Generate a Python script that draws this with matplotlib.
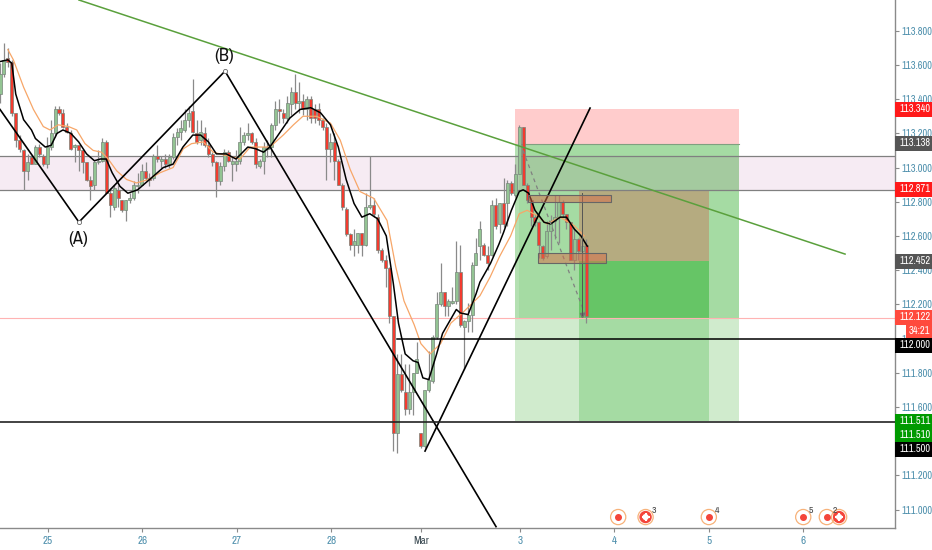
import numpy as np
import matplotlib
matplotlib.use('Agg')
import matplotlib.pyplot as plt
from matplotlib.patches import Rectangle

# hourly bars, 24 per day on the axis
opens = [113.43,113.55,113.64,113.62,113.32,113.16,113.10,112.98,113.06,113.02,
         113.12,113.07,113.02,113.12,113.20,113.34,113.32,113.24,113.20,113.12,
         113.13,113.10,113.03,112.93,112.90,113.03,113.04,113.15,112.85,112.77,
         112.87,112.81,112.75,112.81,112.82,112.89,112.90,112.98,112.94,112.94,
         113.07,113.04,113.05,113.02,113.06,113.18,113.21,113.22,113.28,113.33,
         113.20,113.16,113.20,113.13,113.08,113.03,112.92,113.01,113.09,113.02,
         113.02,113.04,113.15,113.19,113.20,113.15,113.01,113.04,113.11,113.12,
         113.25,113.34,113.32,113.29,113.37,113.44,113.38,113.39,113.34,113.40,
         113.34,113.34,113.28,113.24,113.11,113.15,113.04,112.90,112.76,112.61,
         112.55,112.55,112.62,112.55,112.77,112.78,112.71,112.52,112.46,112.41,
         112.13,111.45,111.79,111.69,111.59,111.69,111.80,111.45,111.37,111.70,
         111.75,112.01,112.20,112.27,112.19,112.21,112.22,112.39,112.07,112.10,
         112.14,112.43,112.54,112.55,112.49,112.49,112.78,112.67,112.79,112.79,
         112.91,112.84,112.96,113.24,112.90,112.81,112.71,112.68,112.54,112.48,
         112.63,112.69,112.71,112.80,112.73,112.68,112.46,112.58,112.51,112.55]
closes = [113.55,113.63,113.62,113.32,113.16,113.11,112.98,113.03,113.02,113.12,
          113.08,113.02,113.12,113.20,113.34,113.32,113.24,113.21,113.11,113.13,
          113.10,113.03,112.93,112.89,113.03,113.04,113.15,112.85,112.78,112.88,
          112.82,112.75,112.81,112.82,112.90,112.90,112.98,112.94,112.93,113.07,
          113.05,113.05,113.02,113.06,113.18,113.21,113.23,113.28,113.32,113.21,
          113.15,113.21,113.13,113.08,113.03,112.92,113.01,113.09,113.04,113.04,
          113.04,113.15,113.19,113.20,113.15,113.02,113.04,113.12,113.12,113.25,
          113.34,113.33,113.29,113.38,113.44,113.38,113.39,113.34,113.40,113.29,
          113.29,113.28,113.24,113.11,113.15,113.04,112.90,112.77,112.61,112.55,
          112.57,112.62,112.55,112.77,112.78,112.73,112.52,112.46,112.41,112.13,
          111.45,111.79,111.70,111.59,111.69,111.80,111.88,111.37,111.70,111.76,
          112.01,112.20,112.27,112.19,112.22,112.22,112.39,112.08,112.10,112.14,
          112.43,112.50,112.64,112.49,112.44,112.78,112.66,112.79,112.67,112.91,
          112.85,112.96,113.24,112.90,112.81,112.71,112.68,112.55,112.47,112.63,
          112.69,112.71,112.80,112.73,112.68,112.46,112.58,112.51,112.54,112.13]
highs = [113.61,113.73,113.70,113.63,113.32,113.19,113.11,113.08,113.07,113.13,
         113.14,113.08,113.18,113.28,113.36,113.36,113.34,113.26,113.22,113.14,
         113.13,113.11,113.03,112.95,113.04,113.10,113.17,113.16,112.88,112.90,
         112.90,112.81,112.81,112.85,112.92,112.97,113.02,113.03,112.97,113.08,
         113.13,113.07,113.08,113.08,113.20,113.23,113.28,113.34,113.36,113.52,
         113.28,113.28,113.24,113.17,113.09,113.04,113.03,113.11,113.10,113.07,
         113.10,113.24,113.21,113.26,113.21,113.17,113.05,113.15,113.16,113.26,
         113.39,113.40,113.34,113.42,113.47,113.55,113.50,113.43,113.42,113.42,
         113.37,113.38,113.29,113.26,113.20,113.20,113.05,112.91,112.77,112.62,
         112.64,112.62,112.62,112.85,113.07,112.82,112.73,112.53,112.49,112.42,
         112.13,111.91,111.91,111.85,111.85,111.80,111.98,111.45,111.70,111.93,
         112.02,112.27,112.44,112.27,112.23,112.30,112.57,112.55,112.11,112.21,
         112.45,112.59,112.69,112.56,112.54,112.81,112.82,112.79,112.94,112.93,
         112.92,113.02,113.25,113.24,112.91,112.82,112.73,112.69,112.55,112.69,
         112.72,112.84,112.84,112.81,112.73,112.68,112.65,112.59,112.58,112.58]
lows = [113.38,113.53,113.59,113.30,113.12,113.09,112.87,112.93,113.02,113.02,
        113.06,113.01,113.00,113.10,113.18,113.31,113.23,113.20,113.10,113.03,
        112.98,112.97,112.92,112.81,112.87,113.02,113.03,112.85,112.71,112.75,
        112.77,112.74,112.69,112.79,112.81,112.85,112.90,112.93,112.89,112.93,
        113.03,113.00,113.00,113.00,113.05,113.13,113.16,113.21,113.24,113.20,
        113.14,113.13,113.12,113.06,113.01,112.83,112.90,112.98,113.03,112.92,
        112.98,113.02,113.13,113.16,113.14,113.00,113.00,112.96,113.06,113.06,
        113.22,113.26,113.26,113.26,113.31,113.34,113.32,113.31,113.28,113.26,
        113.26,113.25,113.22,112.93,113.03,112.93,112.90,112.75,112.60,112.52,
        112.48,112.50,112.48,112.54,112.76,112.71,112.50,112.45,112.30,112.09,
        111.34,111.33,111.69,111.55,111.56,111.55,111.80,111.36,111.36,111.69,
        111.74,112.00,112.19,112.13,112.13,112.20,112.20,112.07,111.82,112.04,
        112.04,112.43,112.46,112.48,112.40,112.48,112.64,112.62,112.65,112.66,
        112.84,112.83,112.96,112.90,112.79,112.66,112.66,112.47,112.46,112.47,
        112.52,112.58,112.56,112.71,112.64,112.46,112.40,112.46,112.46,112.09]

# moving averages, read at some bars only
black_ma_bars = [0,2,3,4,6,8,9,11.5,13,14.5,16,18,20,22,24,25.5,27,28.5,30.5,32.5,35,37,39,41.5,44,46.5,49,51,53,55,
                 57.5,60,63,65,67,68.6,71,73.7,76.3,79,81.5,84,86,88,90,92,94,96,98.2,100,101.3,103,105,106.3,107.5,109,
                 111,112.5,114.5,116,117,119,121,122,124.7,126.8,128,130,132,133,134.4,136,138.3,140,142.4,144,146,147.7,149.3]
black_ma = [113.62,113.63,113.61,113.43,113.28,113.22,113.17,113.12,113.13,113.20,113.22,113.20,113.15,113.08,113.04,
            113.05,113.05,112.97,112.89,112.85,112.87,112.91,112.95,113.00,113.02,113.12,113.19,113.19,113.15,113.08,
            113.08,113.05,113.12,113.11,113.09,113.12,113.20,113.29,113.34,113.35,113.32,113.25,113.12,112.93,112.79,
            112.71,112.73,112.70,112.60,112.32,112.09,111.91,111.87,111.86,111.77,111.76,111.91,112.03,112.11,112.17,
            112.15,112.14,112.26,112.33,112.44,112.55,112.62,112.75,112.86,112.87,112.85,112.75,112.68,112.67,112.71,
            112.71,112.64,112.60,112.54]
orange_ma_bars = [2,3.4,6,8.5,11,12.7,14.8,17.4,19.5,21.6,23.7,25.8,27.5,29.7,32.2,34.7,37.7,40.7,44,46.6,48.7,51.7,54.2,
                  57.6,61,63.6,66,68.6,72,74.6,77,80.5,84,86.5,89,91.5,95,98.4,100.6,102.7,105.3,107,109.3,112,114.6,118,
                  122,124.6,127,129.8,132,134,136.5,139,142.4,146,148.5]
orange_ma = [113.69,113.63,113.47,113.34,113.24,113.22,113.25,113.24,113.22,113.14,113.10,113.09,113.05,112.98,112.93,
             112.91,112.93,112.97,113.00,113.11,113.14,113.15,113.09,113.07,113.05,113.12,113.12,113.12,113.19,113.25,
             113.30,113.30,113.26,113.16,112.99,112.86,112.82,112.69,112.42,112.22,112.08,111.97,111.91,111.97,112.09,
             112.16,112.25,112.36,112.48,112.60,112.73,112.75,112.72,112.67,112.71,112.66,112.60]

# axis
first_bar_day = -0.508
day_ticks = [0, 1, 2, 3, 3.95, 5, 6, 7, 8]
day_labels = ['25', '26', '27', '28', 'Mar', '3', '4', '5', '6']
price_ticks = [111.0, 111.2, 111.4, 111.6, 111.8, 112.0, 112.2, 112.4, 112.6, 112.8, 113.0, 113.2, 113.4, 113.6, 113.8]

# drawings (day, price)
trend_days = [0.328, 8.443]
trend_prices = [113.98, 112.494]
wave_days = [-0.508, 0.328, 1.875, 4.746]
wave_prices = [113.34, 112.681, 113.564, 110.90]
rise_days = [3.994, 5.742]
rise_prices = [111.342, 113.348]

event_days = [6.04, 6.33, 7.0, 8.0, 8.25, 8.38]
event_marks = ['', '3', '4', '5', '2', '']
event_red = [False, True, False, False, False, True]

pills = [('113.340', '#ff1a1a', 109), ('113.138', '#555555', 143), ('112.871', '#ff1a1a', 189),
         ('112.452', '#555555', 261), ('112.122', '#ff4a3d', 317), ('112.000', '#000000', 345.5),
         ('111.511', '#009a00', 421.5), ('111.510', '#009a00', 435), ('111.500', '#000000', 449.5)]

W, H = 932, 550
NARROW = ['Archivo Narrow', 'Liberation Sans']
BLUE = '#4d8fac'

fig = plt.figure(figsize=(W / 100, H / 100), dpi=100)
ax = fig.add_axes([0, 22 / H, 895 / W, 1 - 22 / H])
ax.set_xlim(-0.508, 8.972)
ax.set_ylim(110.892, 113.98)

# zones
def zone(d0, d1, p0, p1, col, z=1, **kw):
    ax.add_patch(Rectangle((d0, p0), d1 - d0, p1 - p0, facecolor=col, edgecolor='none', zorder=z, **kw))

zone(4.947, 7.32, 113.138, 113.34, '#ffcccc')
zone(4.947, 7.32, 111.515, 112.122, '#d0ebcd')
zone(4.947, 4.99, 112.122, 113.138, '#b4e0b2')
zone(4.99, 7.32, 112.122, 113.138, '#a5dba3')
zone(5.625, 7.0, 111.515, 112.122, '#a5dba3')
zone(5.625, 7.0, 112.122, 112.452, '#66c566')
zone(5.625, 7.0, 112.452, 112.871, '#b5ab80')
ax.axhspan(112.871, 113.067, facecolor='#9c2780', alpha=0.09, edgecolor='none', zorder=1.5)
for p in [113.067, 112.871]:
    ax.axhline(p, color='#808080', lw=0.9, zorder=2)
ax.plot([4.99, 7.32], [113.138, 113.138], color='#80a080', lw=0.8, zorder=2)

ax.axhline(112.122, color='#ffb3b3', lw=0.8, zorder=2)
ax.plot([3.70, 8.972], [112.0, 112.0], color='black', lw=1.1, zorder=6)
ax.axhline(111.511, color='#222222', lw=1.2, zorder=6)

# candles
bar_x = first_bar_day + np.arange(len(opens)) / 24
opens = np.array(opens)
closes = np.array(closes)
body_col = np.where(closes >= opens, '#93c493', '#f23b2f')
ax.vlines(bar_x, lows, highs, color='#8a8a8a', lw=0.9, zorder=3)
ax.bar(bar_x, np.abs(closes - opens), bottom=np.minimum(opens, closes), width=0.032,
       color=body_col, edgecolor='#77857a', linewidth=0.5, zorder=3.5)

ax.plot(first_bar_day + np.array(orange_ma_bars) / 24, orange_ma, color='#f7a668', lw=0.9, zorder=4)
ax.plot(first_bar_day + np.array(black_ma_bars) / 24, black_ma, color='black', lw=1.1, zorder=4.5)

# trend lines and wave
ax.plot(trend_days, trend_prices, color='#5aa03c', lw=1.1, zorder=5)
ax.plot(wave_days, wave_prices, color='black', lw=1.2, zorder=5)
ax.plot(rise_days, rise_prices, color='black', lw=1.2, zorder=5)
ax.plot(wave_days[1:3], wave_prices[1:3], ls='none', marker='o', ms=3, mfc='white', mec='#666666', mew=0.6, zorder=5.5)
ax.text(0.32, 112.585, '(A)', family=NARROW, fontsize=13, ha='center', va='center', color='#111111', zorder=7)
ax.text(1.87, 113.65, '(B)', family=NARROW, fontsize=13, ha='center', va='center', color='#111111', zorder=7)

# forecast path and the two small boxes
ax.plot([5.032, 5.70], [113.10, 112.125], color='#808080', lw=0.9, ls=(0, (3, 3)), zorder=5)
ax.plot([5.66], [112.14], marker='v', ms=3, color='#707070', zorder=5)
ax.plot([5.66, 5.66], [112.137, 112.85], color='#555555', lw=0.7, zorder=5)
ax.add_patch(Rectangle((5.08, 112.80), 0.88, 0.04, facecolor=(0.85, 0.42, 0.28, 0.5), edgecolor='#666666', lw=0.8, zorder=5))
ax.add_patch(Rectangle((5.19, 112.443), 0.72, 0.059, facecolor=(0.85, 0.42, 0.28, 0.5), edgecolor='#666666', lw=0.8, zorder=5))

# calendar events
for d, mark, red in zip(event_days, event_marks, event_red):
    ax.scatter([d], [110.956], s=120, facecolor='none', edgecolor='#f7b27a', lw=0.9, zorder=7)
    if red:
        ax.scatter([d], [110.956], s=45, facecolor='none', edgecolor='#f4453a', lw=2.2, zorder=7)
        ax.scatter([d], [110.956], s=30, marker='+', color='white', lw=1.5, zorder=7.5)
    else:
        ax.scatter([d], [110.956], s=16, color='#f4453a', zorder=7)
    if mark:
        ax.text(d + 0.06, 110.995, mark, fontsize=7, family=NARROW, color='#444444', ha='left', va='center', zorder=8)

# axes
for s in ['top', 'left']:
    ax.spines[s].set_visible(False)
for s in ['bottom', 'right']:
    ax.spines[s].set_color('#8a8a8a')
    ax.spines[s].set_linewidth(1)
ax.yaxis.tick_right()
ax.set_yticks(price_ticks)
ax.set_yticklabels(['%.3f' % p for p in price_ticks])
ax.set_xticks(day_ticks)
ax.set_xticklabels(day_labels)
ax.tick_params(axis='y', length=3, width=0.8, color='#8a8a8a', labelcolor=BLUE, labelsize=7.5, pad=2)
ax.tick_params(axis='x', length=3, width=0.8, color='#8a8a8a', labelcolor=BLUE, labelsize=8, pad=3)
for t in ax.get_yticklabels() + ax.get_xticklabels():
    t.set_family(NARROW)
mar = ax.get_xticklabels()[4]
mar.set_color('#3b4a52')
mar.set_fontweight('bold')

# price labels on the scale
for txt, col, y in pills:
    fig.add_artist(Rectangle((895 / W, 1 - (y + 7.5) / H), 37 / W, 15 / H, transform=fig.transFigure,
                             facecolor=col, edgecolor='none', zorder=2))
    fig.text(915 / W, 1 - y / H, txt, color='white', fontsize=7.5, family=NARROW, ha='center', va='center', zorder=3)
fig.add_artist(Rectangle((906 / W, 1 - 338 / H), 26 / W, 13 / H, transform=fig.transFigure,
                         facecolor='#ff4a3d', edgecolor='none', zorder=2))
fig.text(919 / W, 1 - 331.5 / H, '34:21', color='white', fontsize=7.5, family=NARROW, ha='center', va='center', zorder=3)

fig.savefig('out.png', dpi=100, facecolor='white')
